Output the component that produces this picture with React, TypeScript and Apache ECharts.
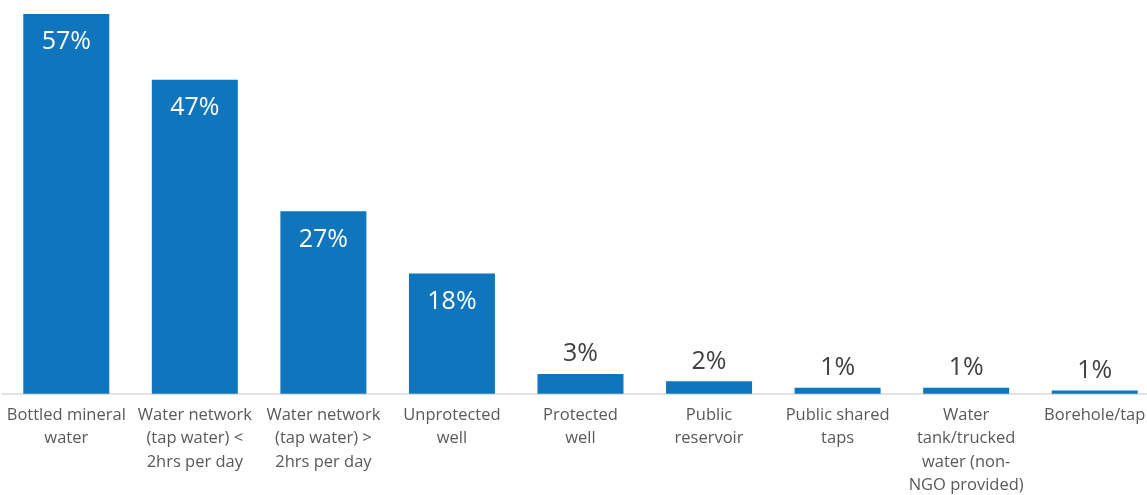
import React, { useEffect, useRef } from "react";
import * as echarts from "echarts";

const categories = [
  "Bottled mineral\nwater",
  "Water network\n(tap water) <\n2hrs per day",
  "Water network\n(tap water) >\n2hrs per day",
  "Unprotected\nwell",
  "Protected\nwell",
  "Public\nreservoir",
  "Public shared\ntaps",
  "Water\ntank/trucked\nwater (non-\nNGO provided)",
  "Borehole/tap",
];
const values = [57.2, 47.3, 27.5, 18.1, 3.0, 1.9, 0.9, 0.9, 0.5];
const labels = ["57%", "47%", "27%", "18%", "3%", "2%", "1%", "1%", "1%"];

export default function App() {
  const ref = useRef<HTMLDivElement>(null);
  useEffect(() => {
    const chart = echarts.init(ref.current!, null, { renderer: "svg" });
    const font = "'Open Sans', 'Noto Sans', sans-serif";
    chart.setOption({
      animation: false,
      grid: { left: 2, top: 0, right: 0, bottom: 88, containLabel: false },
      xAxis: {
        type: "category",
        data: categories,
        axisLine: { lineStyle: { color: "#d9d9d9", width: 1.5 } },
        axisTick: { show: false },
        axisLabel: {
          interval: 0,
          color: "#595959",
          fontSize: 16.5,
          lineHeight: 23.3,
          fontFamily: font,
          margin: 8,
        },
      },
      yAxis: {
        type: "value",
        min: 0,
        max: 59.3,
        show: false,
        splitLine: { show: false },
      },
      series: [
        {
          type: "bar",
          barWidth: 86,
          data: values.map((v, i) => {
            const inside = v > 10;
            return {
              value: v,
              label: {
                show: true,
                formatter: labels[i],
                position: inside ? "insideTop" : "top",
                distance: inside ? 13 : 10,
                color: inside ? "#ffffff" : "#404040",
                fontSize: 25,
                fontFamily: font,
              },
            };
          }),
          itemStyle: { color: "#0F75BC" },
        },
      ],
    });
    return () => chart.dispose();
  }, []);
  return (
    <div
      style={{
        position: "fixed",
        left: 0,
        top: 0,
        width: 1147,
        height: 495,
        overflow: "hidden",
      }}
    >
      <div ref={ref} style={{ width: 1159, height: 495 }} />
    </div>
  );
}
